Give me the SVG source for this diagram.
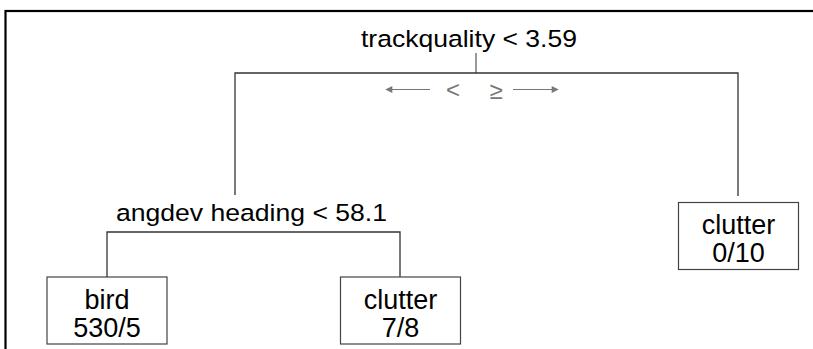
<svg xmlns="http://www.w3.org/2000/svg" width="813" height="349" viewBox="0 0 813 349">
<style>
text{font-family:"Liberation Sans",Arial,sans-serif;fill:#000}
.split{font-size:24.5px}
.leaf{font-size:27px;text-anchor:middle}
.box{fill:#fff;stroke:#444;stroke-width:1.2}
.conn{fill:none;stroke:#333;stroke-width:1.3}
.stub{stroke:#777;stroke-width:1.5}
.dir{stroke:#777;stroke-width:1.2;fill:none}
.sym{font-size:24px;fill:#777;text-anchor:middle}
</style>
<defs>
<marker id="ah" viewBox="0 0 10 10" refX="9" refY="5" markerWidth="9" markerHeight="7" markerUnits="userSpaceOnUse" orient="auto">
<path d="M0,0 L10,5 L0,10 z" fill="#777"/>
</marker>
</defs>
<rect x="5.5" y="11" width="900" height="400" fill="#fff" stroke="#000" stroke-width="2.2"/>
<g id="connectors">
<line class="conn stub" x1="476" y1="53" x2="476" y2="73"/>
<polyline class="conn" points="235,195 235,73 738,73 738,196"/>
<polyline class="conn" points="107,277 107,232 400,232 400,277"/>
<line class="dir" x1="430" y1="89.5" x2="386" y2="89.5" marker-end="url(#ah)"/>
<line class="dir" x1="513" y1="89.5" x2="558" y2="89.5" marker-end="url(#ah)"/>
<text class="sym" x="453" y="98">&lt;</text>
<text class="sym" x="496" y="99">≥</text>
</g>
<g id="node-root">
<text class="split" x="361" y="47" textLength="216" lengthAdjust="spacingAndGlyphs">trackquality &lt; 3.59</text>
</g>
<g id="node-angdev">
<text class="split" x="116" y="221" textLength="271" lengthAdjust="spacingAndGlyphs">angdev heading &lt; 58.1</text>
</g>
<g id="leaf-bird">
<rect class="box" x="47" y="277" width="120" height="67"/>
<text class="leaf" x="107" y="309">bird</text>
<text class="leaf" x="107" y="337">530/5</text>
</g>
<g id="leaf-clutter-left">
<rect class="box" x="340.5" y="277" width="120" height="67"/>
<text class="leaf" x="400.5" y="309">clutter</text>
<text class="leaf" x="400.5" y="337">7/8</text>
</g>
<g id="leaf-clutter-right">
<rect class="box" x="678.5" y="202.5" width="120" height="67"/>
<text class="leaf" x="738.5" y="234">clutter</text>
<text class="leaf" x="738.5" y="262">0/10</text>
</g>
</svg>
